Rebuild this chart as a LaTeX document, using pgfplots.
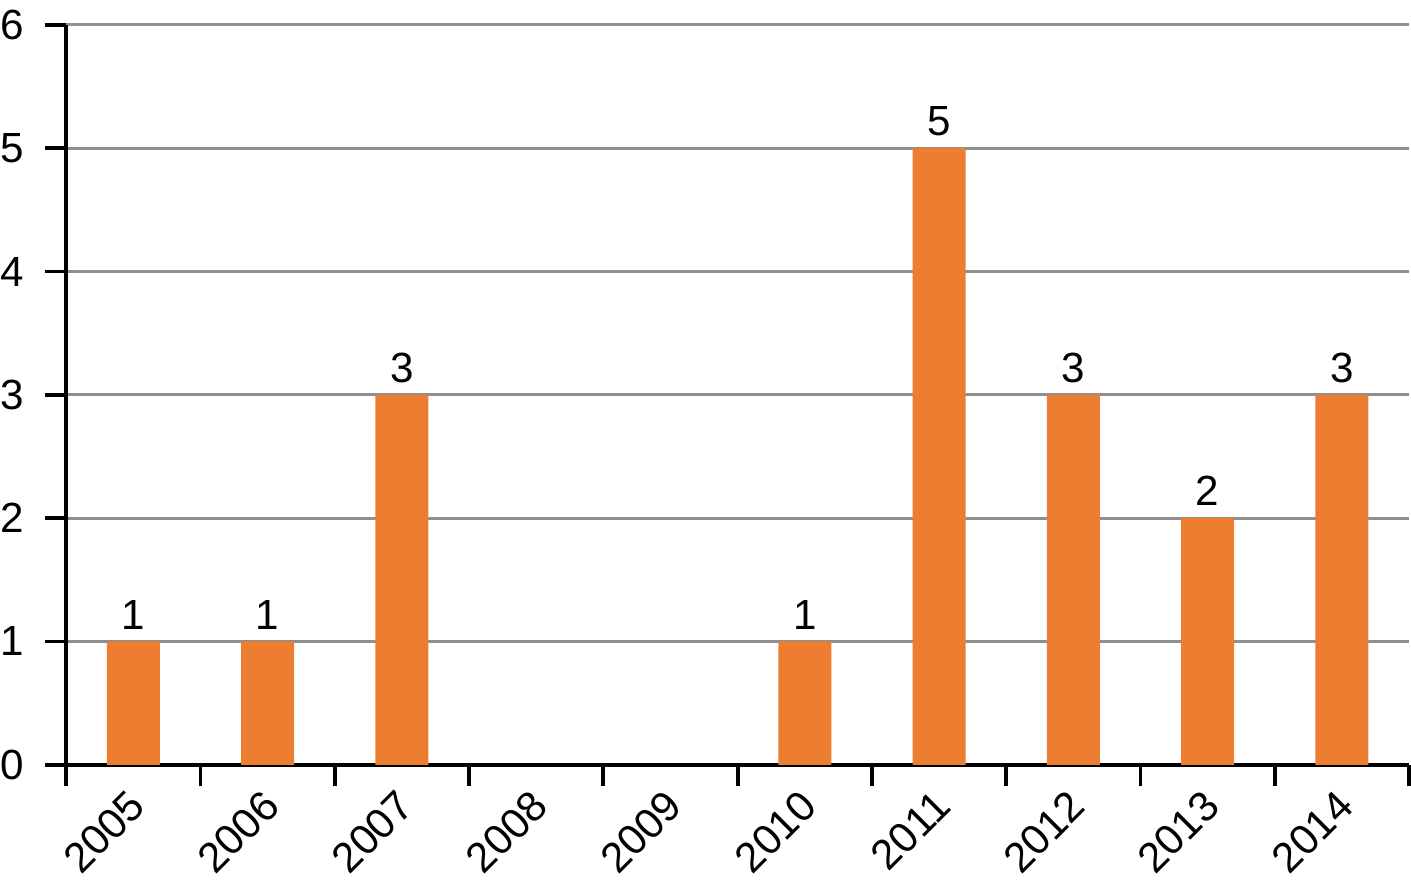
\documentclass[border=0pt]{standalone}
\usepackage{fontspec}
\setmainfont{Liberation Sans}
\usepackage{pgfplots}
\pgfplotsset{compat=1.18}
\definecolor{barOrange}{HTML}{ED7D31}
\definecolor{gridGray}{HTML}{8F8F8F}

\begin{document}
\begin{tikzpicture}
  \begin{axis}[
    scale only axis,
    width=13.43cm, height=7.40cm,
    xmin=-0.5, xmax=9.5,
    ymin=0, ymax=6,
    axis lines=left,
    axis line style={black, line width=1.1pt, -},
    tick align=outside,
    major tick length=0.21cm,
    minor tick length=0.21cm,
    tick style={black, line width=1.1pt},
    ytick={0,...,6},
    ymajorgrids,
    major grid style={gridGray, line width=0.85pt},
    xtick={0,...,9},
    xticklabels={2005,2006,2007,2008,2009,2010,2011,2012,2013,2014},
    every major x tick/.append style={draw=none},
    minor xtick={-0.5,0.5,...,9.5},
    tick label style={font=\fontsize{12}{14}\selectfont},
    /pgf/number format/assume math mode=true,
    xticklabel style={inner sep=0pt, xshift=1.2pt, yshift=-3.5pt, rotate=45, anchor=east},
    yticklabel style={inner sep=0pt, xshift=-6pt},
    nodes near coords,
    nodes near coords style={font=\fontsize{12}{14}\selectfont, black},
    clip=false,
  ]
    % values per year; 2008 and 2009 have no bar
    \addplot[ybar, bar width=0.53cm, fill=barOrange, draw=none]
      coordinates {
        (0,1) (1,1) (2,3) (5,1) (6,5) (7,3) (8,2) (9,3)
      };
  \end{axis}
  % small blank margins as in the reference
  \path ([yshift=0.1cm]current bounding box.north) ([yshift=-0.06cm]current bounding box.south);
\end{tikzpicture}
\end{document}
